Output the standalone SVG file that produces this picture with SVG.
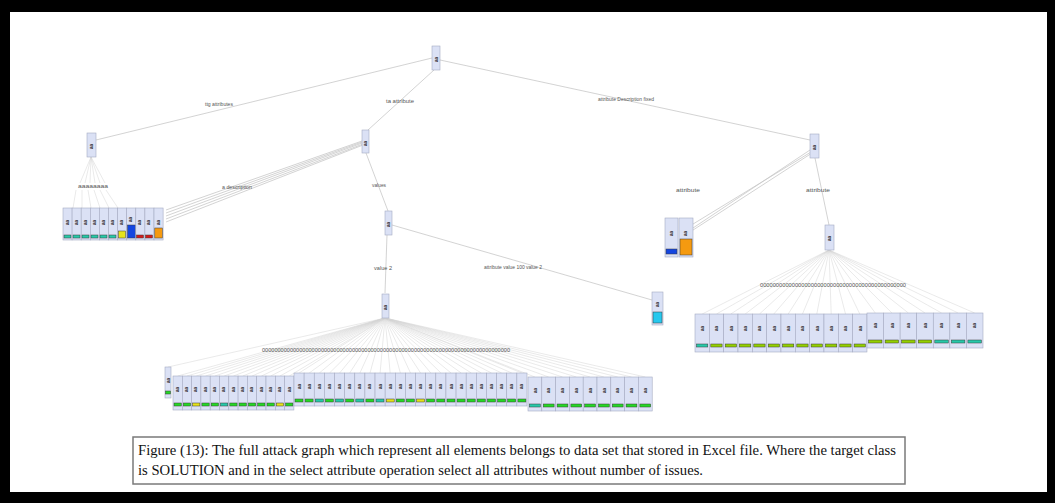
<svg xmlns="http://www.w3.org/2000/svg" xmlns:xlink="http://www.w3.org/1999/xlink" width="1055" height="503" viewBox="0 0 1055 503">
<style>
.n{fill:#dbe1f5;stroke:#a6abc2;stroke-width:0.6}
.e{stroke:#c8c8c8;stroke-width:0.8;fill:none}
.ef{stroke:#d4d4d4;stroke-width:0.5;fill:none}
.lb{font-family:"Liberation Sans",sans-serif;font-size:4.5px;fill:#555}
.mk{font-family:"Liberation Sans",sans-serif;font-size:4.5px;fill:#333;font-weight:bold}
.b{stroke:#3a3a3a;stroke-width:0.5}
.tl{fill:#26c9a9}.gr{fill:#25d825}.yg{fill:#94d000}.ye{fill:#e6e21a}.bl{fill:#1446e0}.rd{fill:#d41c1c}.or{fill:#f59a10}.cy{fill:#26c8ee}
.cap{font-family:"Liberation Serif",serif;font-size:15px;fill:#111}
</style>
<defs>
<text id="m" class="mk" transform="rotate(-90)">aa</text>
</defs>
<rect x="0" y="0" width="1055" height="503" fill="#000"/>
<rect x="10" y="12" width="1037" height="480" fill="#fff"/>

<g id="connectors">
<path class="e" d="M432,58 L96,140 M434,70 L368,130 M440,60 L810,140"/>
<path class="e" d="M362,141 L166,210 M362,142 L166,213 M362,143 L166,216 M363,144 L166,219 M363,145 L166,222"/>
<path class="e" d="M366,153 L388,211 M387,235 L385,293 M392,225 L652,300"/>
<path class="e" d="M810,150 L693,228 M811,152 L680,232 M812,153 L690,232 M815,158 L829,225"/>
<path class="ef" d="M91,157 L80,183 M91,157 L85,183 M91,157 L90,183 M91,157 L95,183 M91,157 L100,183 M91,157 L105,183 M76,190 L73,208 M82,190 L82,208 M88,190 L91,208 M94,190 L100,208 M100,190 L109,208 M106,190 L118,208"/>
<path class="ef" d="M385,318 L168,367 M385,318 L177.7,376 M385,318 L187,376 M385,318 L196.3,376 M385,318 L205.6,376 M385,318 L214.9,376 M385,318 L224.2,376 M385,318 L233.5,376 M385,318 L242.8,376 M385,318 L252.1,376 M385,318 L261.4,376 M385,318 L270.7,376 M385,318 L280,376 M385,318 L289.3,376 M385,318 L299.1,373 M385,318 L309.2,373 M385,318 L319.3,373 M385,318 L329.5,373 M385,318 L339.6,373 M385,318 L349.7,373 M385,318 L359.9,373 M385,318 L370,373 M385,318 L380.1,373 M385,318 L390.2,373 M385,318 L400.4,373 M385,318 L410.5,373 M385,318 L420.6,373 M385,318 L430.8,373 M385,318 L440.9,373 M385,318 L451,373 M385,318 L461.2,373 M385,318 L471.3,373 M385,318 L481.4,373 M385,318 L491.5,373 M385,318 L501.7,373 M385,318 L511.8,373 M385,318 L521.9,373 M385,318 L534.9,377 M385,318 L548.7,377 M385,318 L562.5,377 M385,318 L576.3,377 M385,318 L590.1,377 M385,318 L603.9,377 M385,318 L617.7,377 M385,318 L631.5,377 M385,318 L645.3,377"/>
<path class="ef" d="M829,250 L702.2,314 M829,250 L716.5,314 M829,250 L730.8,314 M829,250 L745.2,314 M829,250 L759.5,314 M829,250 L773.8,314 M829,250 L788.2,314 M829,250 L802.5,314 M829,250 L816.8,314 M829,250 L831.2,314 M829,250 L845.5,314 M829,250 L859.8,314 M829,250 L875.3,313 M829,250 L891.9,313 M829,250 L908.4,313 M829,250 L925,313 M829,250 L941.6,313 M829,250 L958.1,313 M829,250 L974.7,313"/>
<text class="lb" x="205" y="106" textLength="28" lengthAdjust="spacingAndGlyphs">ttg attributes</text>
<text class="lb" x="386" y="103" textLength="28" lengthAdjust="spacingAndGlyphs">ta attribute</text>
<text class="lb" x="598" y="101" textLength="56" lengthAdjust="spacingAndGlyphs">attribute Description fixed</text>
<text class="lb" x="222" y="189" textLength="30" lengthAdjust="spacingAndGlyphs">a description</text>
<text class="lb" x="78" y="188" textLength="30" lengthAdjust="spacingAndGlyphs">aaaaaaaa</text>
<text class="lb" x="372" y="187" textLength="14" lengthAdjust="spacingAndGlyphs">values</text>
<text class="lb" x="374" y="270" textLength="18" lengthAdjust="spacingAndGlyphs">value 2</text>
<text class="lb" x="484" y="269" textLength="58" lengthAdjust="spacingAndGlyphs">attribute value 100 value 2</text>
<text class="lb" x="676" y="192" textLength="24" lengthAdjust="spacingAndGlyphs">attribute</text>
<text class="lb" x="806" y="192" textLength="24" lengthAdjust="spacingAndGlyphs">attribute</text>
<text class="lb" x="262" y="352" textLength="248" lengthAdjust="spacingAndGlyphs">00000000000000000000000000000000000000000000000000000000000000000000000000000000</text>
<text class="lb" x="760" y="287" textLength="146" lengthAdjust="spacingAndGlyphs">0000000000000000000000000000000000000000000000</text>
</g>

<g id="root"><rect class="n" x="432" y="46" width="8" height="24"/><use href="#m" transform="translate(437.5,62)"/></g>
<g id="n-left"><rect class="n" x="87" y="133" width="9" height="24"/><use href="#m" transform="translate(93,149)"/></g>
<g id="n-mid"><rect class="n" x="362" y="130" width="7" height="23"/><use href="#m" transform="translate(367,146)"/></g>
<g id="n-mid2"><rect class="n" x="385" y="211" width="7" height="24"/><use href="#m" transform="translate(390,227)"/></g>
<g id="n-mid3"><rect class="n" x="382" y="294" width="7" height="24"/><use href="#m" transform="translate(387,310)"/></g>
<g id="n-right"><rect class="n" x="810" y="134" width="9" height="24"/><use href="#m" transform="translate(816,150)"/></g>
<g id="n-right2"><rect class="n" x="825" y="225" width="9" height="25"/><use href="#m" transform="translate(831,241)"/></g>
<g id="leaf-p"><rect class="n" x="652" y="292" width="11" height="33"/><use href="#m" transform="translate(659,307)"/><rect class="cy b" x="653" y="312" width="9" height="11"/></g>
<g id="leaf-q1"><rect class="n" x="665" y="218" width="13" height="39"/><use href="#m" transform="translate(673,236)"/><rect class="bl b" x="666" y="249" width="11" height="5"/></g>
<g id="leaf-q2"><rect class="n" x="679" y="218" width="14" height="39"/><use href="#m" transform="translate(687,236)"/><rect class="or b" x="680" y="239" width="12" height="16"/></g>

<g id="lg1"><rect class="n" x="63" y="208" width="9.1" height="32"/><use href="#m" transform="translate(69,225)"/><rect class="tl b" x="64" y="235" width="7" height="3"/></g>
<g id="lg2"><rect class="n" x="72.1" y="208" width="9.1" height="32"/><use href="#m" transform="translate(78,225)"/><rect class="tl b" x="73" y="235" width="7" height="3"/></g>
<g id="lg3"><rect class="n" x="81.2" y="208" width="9.1" height="32"/><use href="#m" transform="translate(87,225)"/><rect class="tl b" x="82" y="235" width="7" height="3"/></g>
<g id="lg4"><rect class="n" x="90.3" y="208" width="9.1" height="32"/><use href="#m" transform="translate(96,225)"/><rect class="tl b" x="91" y="235" width="7" height="3"/></g>
<g id="lg5"><rect class="n" x="99.4" y="208" width="9.1" height="32"/><use href="#m" transform="translate(105,225)"/><rect class="tl b" x="100" y="235" width="7" height="3"/></g>
<g id="lg6"><rect class="n" x="108.5" y="208" width="9.1" height="32"/><use href="#m" transform="translate(114,225)"/><rect class="tl b" x="109" y="235" width="7" height="3"/></g>
<g id="lg7"><rect class="n" x="117.6" y="208" width="9.1" height="32"/><use href="#m" transform="translate(123,225)"/><rect class="ye b" x="118.5" y="231" width="7" height="7"/></g>
<g id="lg8"><rect class="n" x="126.7" y="208" width="9.1" height="32"/><use href="#m" transform="translate(132,222)"/><rect class="bl b" x="127.5" y="225" width="8" height="13"/></g>
<g id="lg9"><rect class="n" x="135.8" y="208" width="9.1" height="32"/><use href="#m" transform="translate(141,225)"/><rect class="rd b" x="136.5" y="235" width="7" height="3"/></g>
<g id="lg10"><rect class="n" x="144.9" y="208" width="9.1" height="32"/><use href="#m" transform="translate(150,225)"/><rect class="rd b" x="145.5" y="235" width="7" height="3"/></g>
<g id="lg11"><rect class="n" x="154" y="208" width="9.1" height="32"/><use href="#m" transform="translate(160,225)"/><rect class="or b" x="154.8" y="228" width="7.5" height="10"/></g>

<g id="b0"><rect class="n" x="165" y="367" width="6" height="31"/><use href="#m" transform="translate(170,383)"/><rect class="gr b" x="165.5" y="391" width="5" height="3"/></g>
<g id="a1"><rect class="n" x="173" y="376" width="9.3" height="34"/><use href="#m" transform="translate(179,392)"/><rect class="gr b" x="174" y="403" width="7.3" height="3"/></g>
<g id="a2"><rect class="n" x="182.3" y="376" width="9.3" height="34"/><use href="#m" transform="translate(188,392)"/><rect class="gr b" x="183.3" y="403" width="7.3" height="3"/></g>
<g id="a3"><rect class="n" x="191.6" y="376" width="9.3" height="34"/><use href="#m" transform="translate(197,392)"/><rect class="ye b" x="192.6" y="403" width="7.3" height="3"/></g>
<g id="a4"><rect class="n" x="200.9" y="376" width="9.3" height="34"/><use href="#m" transform="translate(207,392)"/><rect class="gr b" x="201.9" y="403" width="7.3" height="3"/></g>
<g id="a5"><rect class="n" x="210.2" y="376" width="9.3" height="34"/><use href="#m" transform="translate(216,392)"/><rect class="gr b" x="211.2" y="403" width="7.3" height="3"/></g>
<g id="a6"><rect class="n" x="219.5" y="376" width="9.3" height="34"/><use href="#m" transform="translate(225,392)"/><rect class="tl b" x="220.5" y="403" width="7.3" height="3"/></g>
<g id="a7"><rect class="n" x="228.8" y="376" width="9.3" height="34"/><use href="#m" transform="translate(235,392)"/><rect class="gr b" x="229.8" y="403" width="7.3" height="3"/></g>
<g id="a8"><rect class="n" x="238.1" y="376" width="9.3" height="34"/><use href="#m" transform="translate(244,392)"/><rect class="gr b" x="239.1" y="403" width="7.3" height="3"/></g>
<g id="a9"><rect class="n" x="247.4" y="376" width="9.3" height="34"/><use href="#m" transform="translate(253,392)"/><rect class="gr b" x="248.4" y="403" width="7.3" height="3"/></g>
<g id="a10"><rect class="n" x="256.7" y="376" width="9.3" height="34"/><use href="#m" transform="translate(263,392)"/><rect class="gr b" x="257.7" y="403" width="7.3" height="3"/></g>
<g id="a11"><rect class="n" x="266" y="376" width="9.3" height="34"/><use href="#m" transform="translate(272,392)"/><rect class="gr b" x="267" y="403" width="7.3" height="3"/></g>
<g id="a12"><rect class="n" x="275.3" y="376" width="9.3" height="34"/><use href="#m" transform="translate(281,392)"/><rect class="ye b" x="276.3" y="403" width="7.3" height="3"/></g>
<g id="a13"><rect class="n" x="284.6" y="376" width="9.3" height="34"/><use href="#m" transform="translate(291,392)"/><rect class="gr b" x="285.6" y="403" width="7.3" height="3"/></g>

<g id="c1"><rect class="n" x="294" y="373" width="10.13" height="33"/><use href="#m" transform="translate(300.5,389)"/><rect class="gr b" x="295" y="399" width="8" height="3"/></g>
<g id="c2"><rect class="n" x="304.13" y="373" width="10.13" height="33"/><use href="#m" transform="translate(310.6,389)"/><rect class="gr b" x="305.1" y="399" width="8" height="3"/></g>
<g id="c3"><rect class="n" x="314.26" y="373" width="10.13" height="33"/><use href="#m" transform="translate(320.7,389)"/><rect class="tl b" x="315.3" y="399" width="8" height="3"/></g>
<g id="c4"><rect class="n" x="324.39" y="373" width="10.13" height="33"/><use href="#m" transform="translate(330.9,389)"/><rect class="gr b" x="325.4" y="399" width="8" height="3"/></g>
<g id="c5"><rect class="n" x="334.52" y="373" width="10.13" height="33"/><use href="#m" transform="translate(341,389)"/><rect class="tl b" x="335.5" y="399" width="8" height="3"/></g>
<g id="c6"><rect class="n" x="344.65" y="373" width="10.13" height="33"/><use href="#m" transform="translate(351.1,389)"/><rect class="gr b" x="345.7" y="399" width="8" height="3"/></g>
<g id="c7"><rect class="n" x="354.78" y="373" width="10.13" height="33"/><use href="#m" transform="translate(361.3,389)"/><rect class="tl b" x="355.8" y="399" width="8" height="3"/></g>
<g id="c8"><rect class="n" x="364.91" y="373" width="10.13" height="33"/><use href="#m" transform="translate(371.4,389)"/><rect class="gr b" x="365.9" y="399" width="8" height="3"/></g>
<g id="c9"><rect class="n" x="375.04" y="373" width="10.13" height="33"/><use href="#m" transform="translate(381.5,389)"/><rect class="tl b" x="376" y="399" width="8" height="3"/></g>
<g id="c10"><rect class="n" x="385.17" y="373" width="10.13" height="33"/><use href="#m" transform="translate(391.7,389)"/><rect class="ye b" x="386.2" y="399" width="8" height="3"/></g>
<g id="c11"><rect class="n" x="395.3" y="373" width="10.13" height="33"/><use href="#m" transform="translate(401.8,389)"/><rect class="gr b" x="396.3" y="399" width="8" height="3"/></g>
<g id="c12"><rect class="n" x="405.43" y="373" width="10.13" height="33"/><use href="#m" transform="translate(411.9,389)"/><rect class="gr b" x="406.4" y="399" width="8" height="3"/></g>
<g id="c13"><rect class="n" x="415.56" y="373" width="10.13" height="33"/><use href="#m" transform="translate(422.1,389)"/><rect class="ye b" x="416.6" y="399" width="8" height="3"/></g>
<g id="c14"><rect class="n" x="425.69" y="373" width="10.13" height="33"/><use href="#m" transform="translate(432.2,389)"/><rect class="gr b" x="426.7" y="399" width="8" height="3"/></g>
<g id="c15"><rect class="n" x="435.82" y="373" width="10.13" height="33"/><use href="#m" transform="translate(442.3,389)"/><rect class="gr b" x="436.8" y="399" width="8" height="3"/></g>
<g id="c16"><rect class="n" x="445.95" y="373" width="10.13" height="33"/><use href="#m" transform="translate(452.5,389)"/><rect class="gr b" x="447" y="399" width="8" height="3"/></g>
<g id="c17"><rect class="n" x="456.08" y="373" width="10.13" height="33"/><use href="#m" transform="translate(462.6,389)"/><rect class="gr b" x="457.1" y="399" width="8" height="3"/></g>
<g id="c18"><rect class="n" x="466.21" y="373" width="10.13" height="33"/><use href="#m" transform="translate(472.7,389)"/><rect class="gr b" x="467.2" y="399" width="8" height="3"/></g>
<g id="c19"><rect class="n" x="476.34" y="373" width="10.13" height="33"/><use href="#m" transform="translate(482.9,389)"/><rect class="gr b" x="477.3" y="399" width="8" height="3"/></g>
<g id="c20"><rect class="n" x="486.47" y="373" width="10.13" height="33"/><use href="#m" transform="translate(493,389)"/><rect class="gr b" x="487.5" y="399" width="8" height="3"/></g>
<g id="c21"><rect class="n" x="496.6" y="373" width="10.13" height="33"/><use href="#m" transform="translate(503.1,389)"/><rect class="gr b" x="497.6" y="399" width="8" height="3"/></g>
<g id="c22"><rect class="n" x="506.73" y="373" width="10.13" height="33"/><use href="#m" transform="translate(513.3,389)"/><rect class="gr b" x="507.7" y="399" width="8" height="3"/></g>
<g id="c23"><rect class="n" x="516.86" y="373" width="10.13" height="33"/><use href="#m" transform="translate(523.4,389)"/><rect class="gr b" x="517.9" y="399" width="8" height="3"/></g>

<g id="d1"><rect class="n" x="528" y="377" width="13.8" height="34"/><use href="#m" transform="translate(536.5,393)"/><rect class="tl b" x="529.5" y="404" width="10.8" height="3"/></g>
<g id="d2"><rect class="n" x="541.8" y="377" width="13.8" height="34"/><use href="#m" transform="translate(550.3,393)"/><rect class="gr b" x="543.3" y="404" width="10.8" height="3"/></g>
<g id="d3"><rect class="n" x="555.6" y="377" width="13.8" height="34"/><use href="#m" transform="translate(564.1,393)"/><rect class="gr b" x="557.1" y="404" width="10.8" height="3"/></g>
<g id="d4"><rect class="n" x="569.4" y="377" width="13.8" height="34"/><use href="#m" transform="translate(577.9,393)"/><rect class="gr b" x="570.9" y="404" width="10.8" height="3"/></g>
<g id="d5"><rect class="n" x="583.2" y="377" width="13.8" height="34"/><use href="#m" transform="translate(591.7,393)"/><rect class="gr b" x="584.7" y="404" width="10.8" height="3"/></g>
<g id="d6"><rect class="n" x="597" y="377" width="13.8" height="34"/><use href="#m" transform="translate(605.5,393)"/><rect class="gr b" x="598.5" y="404" width="10.8" height="3"/></g>
<g id="d7"><rect class="n" x="610.8" y="377" width="13.8" height="34"/><use href="#m" transform="translate(619.3,393)"/><rect class="gr b" x="612.3" y="404" width="10.8" height="3"/></g>
<g id="d8"><rect class="n" x="624.6" y="377" width="13.8" height="34"/><use href="#m" transform="translate(633.1,393)"/><rect class="gr b" x="626.1" y="404" width="10.8" height="3"/></g>
<g id="d9"><rect class="n" x="638.4" y="377" width="13.8" height="34"/><use href="#m" transform="translate(646.9,393)"/><rect class="gr b" x="639.9" y="404" width="10.8" height="3"/></g>

<g id="r1"><rect class="n" x="695" y="314" width="14.33" height="38"/><use href="#m" transform="translate(704,331)"/><rect class="tl b" x="696.5" y="344" width="11.3" height="3"/></g>
<g id="r2"><rect class="n" x="709.33" y="314" width="14.33" height="38"/><use href="#m" transform="translate(718.3,331)"/><rect class="yg b" x="710.8" y="344" width="11.3" height="3"/></g>
<g id="r3"><rect class="n" x="723.66" y="314" width="14.33" height="38"/><use href="#m" transform="translate(732.6,331)"/><rect class="yg b" x="725.2" y="344" width="11.3" height="3"/></g>
<g id="r4"><rect class="n" x="737.99" y="314" width="14.33" height="38"/><use href="#m" transform="translate(747,331)"/><rect class="yg b" x="739.5" y="344" width="11.3" height="3"/></g>
<g id="r5"><rect class="n" x="752.32" y="314" width="14.33" height="38"/><use href="#m" transform="translate(761.3,331)"/><rect class="yg b" x="753.8" y="344" width="11.3" height="3"/></g>
<g id="r6"><rect class="n" x="766.65" y="314" width="14.33" height="38"/><use href="#m" transform="translate(775.6,331)"/><rect class="yg b" x="768.2" y="344" width="11.3" height="3"/></g>
<g id="r7"><rect class="n" x="780.98" y="314" width="14.33" height="38"/><use href="#m" transform="translate(790,331)"/><rect class="yg b" x="782.5" y="344" width="11.3" height="3"/></g>
<g id="r8"><rect class="n" x="795.31" y="314" width="14.33" height="38"/><use href="#m" transform="translate(804.3,331)"/><rect class="yg b" x="796.8" y="344" width="11.3" height="3"/></g>
<g id="r9"><rect class="n" x="809.64" y="314" width="14.33" height="38"/><use href="#m" transform="translate(818.6,331)"/><rect class="yg b" x="811.1" y="344" width="11.3" height="3"/></g>
<g id="r10"><rect class="n" x="823.97" y="314" width="14.33" height="38"/><use href="#m" transform="translate(833,331)"/><rect class="yg b" x="825.5" y="344" width="11.3" height="3"/></g>
<g id="r11"><rect class="n" x="838.3" y="314" width="14.33" height="38"/><use href="#m" transform="translate(847.3,331)"/><rect class="yg b" x="839.8" y="344" width="11.3" height="3"/></g>
<g id="r12"><rect class="n" x="852.63" y="314" width="14.33" height="38"/><use href="#m" transform="translate(861.6,331)"/><rect class="yg b" x="854.1" y="344" width="11.3" height="3"/></g>
<g id="s1"><rect class="n" x="867" y="313" width="16.57" height="35"/><use href="#m" transform="translate(877,328)"/><rect class="yg b" x="868.5" y="340" width="13.5" height="3"/></g>
<g id="s2"><rect class="n" x="883.57" y="313" width="16.57" height="35"/><use href="#m" transform="translate(893.6,328)"/><rect class="yg b" x="885.1" y="340" width="13.5" height="3"/></g>
<g id="s3"><rect class="n" x="900.14" y="313" width="16.57" height="35"/><use href="#m" transform="translate(910.1,328)"/><rect class="yg b" x="901.6" y="340" width="13.5" height="3"/></g>
<g id="s4"><rect class="n" x="916.71" y="313" width="16.57" height="35"/><use href="#m" transform="translate(926.7,328)"/><rect class="yg b" x="918.2" y="340" width="13.5" height="3"/></g>
<g id="s5"><rect class="n" x="933.28" y="313" width="16.57" height="35"/><use href="#m" transform="translate(943.3,328)"/><rect class="tl b" x="934.8" y="340" width="13.5" height="3"/></g>
<g id="s6"><rect class="n" x="949.85" y="313" width="16.57" height="35"/><use href="#m" transform="translate(959.8,328)"/><rect class="tl b" x="951.4" y="340" width="13.5" height="3"/></g>
<g id="s7"><rect class="n" x="966.42" y="313" width="16.57" height="35"/><use href="#m" transform="translate(976.4,328)"/><rect class="tl b" x="967.9" y="340" width="13.5" height="3"/></g>

<g id="caption">
<rect x="133" y="437" width="772" height="47" fill="#fff" stroke="#7a7a7a" stroke-width="1.5"/>
<text class="cap" x="138" y="455" textLength="758" lengthAdjust="spacingAndGlyphs">Figure (13): The full attack graph which represent all elements belongs to data set that stored in Excel file. Where the target class</text>
<text class="cap" x="138" y="475" textLength="565" lengthAdjust="spacingAndGlyphs">is SOLUTION and in the select attribute operation select all attributes without number of issues.</text>
</g>
</svg>
